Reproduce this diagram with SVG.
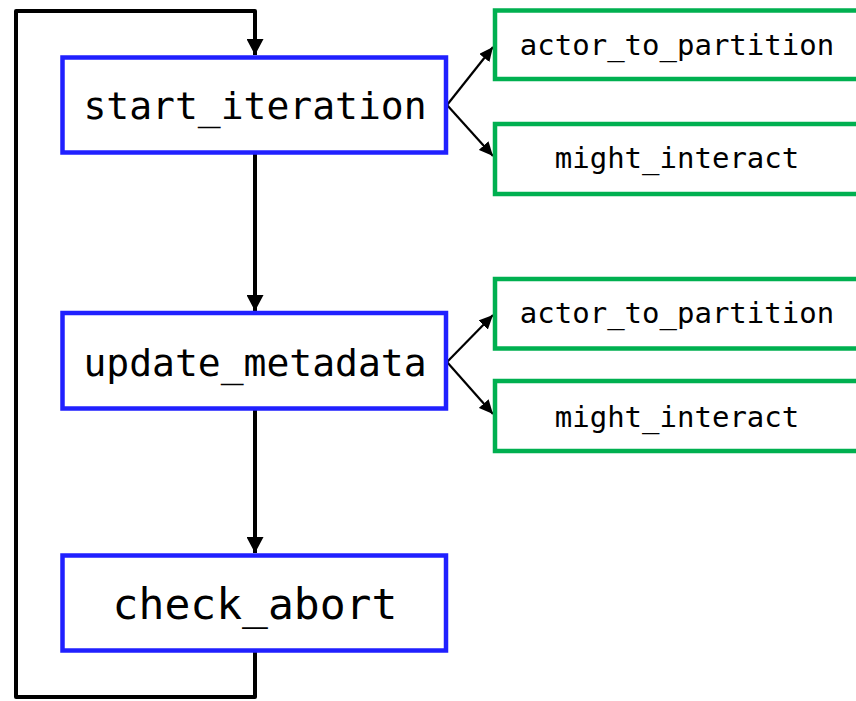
<svg xmlns="http://www.w3.org/2000/svg" width="856" height="701" viewBox="0 0 856 701">
  <style>
    .step rect { fill: #ffffff; stroke: #2020ff; stroke-width: 4.5; }
    .out rect { fill: #ffffff; stroke: #00b050; stroke-width: 4.5; }
    text { font-family: "DejaVu Sans Mono", "Liberation Mono", monospace; fill: #000000; text-anchor: middle; }
    .step text { font-size: 38px; }
    .out text { font-size: 29px; }
    .flow { fill: none; stroke: #000000; stroke-width: 4; stroke-linejoin: round; }
    .link { fill: none; stroke: #000000; stroke-width: 2.2; }
  </style>
  <defs>
    <marker id="bigHead" markerUnits="userSpaceOnUse" markerWidth="17" markerHeight="17" refX="16" refY="8.5" orient="auto">
      <path d="M0,0 L16,8.5 L0,17 Z" fill="#000000"/>
    </marker>
    <marker id="smallHead" markerUnits="userSpaceOnUse" markerWidth="15" markerHeight="13" refX="14" refY="6.5" orient="auto">
      <path d="M0,0 L14,6.5 L0,13 Z" fill="#000000"/>
    </marker>
  </defs>

  <g id="connectors">
    <path class="flow" d="M255,651 L255,697 L16,697 L16,11 L255,11 L255,55" marker-end="url(#bigHead)"/>
    <path class="flow" d="M255,153 L255,311" marker-end="url(#bigHead)"/>
    <path class="flow" d="M255,409 L255,553" marker-end="url(#bigHead)"/>
    <path class="link" d="M447,105 L493,47" marker-end="url(#smallHead)"/>
    <path class="link" d="M447,105 L493,156" marker-end="url(#smallHead)"/>
    <path class="link" d="M447,362 L493,315" marker-end="url(#smallHead)"/>
    <path class="link" d="M447,362 L493,414" marker-end="url(#smallHead)"/>
  </g>

  <g id="start_iteration" class="step">
    <rect x="62.5" y="57.5" width="383.5" height="95"/>
    <text x="255" y="119">start_iteration</text>
  </g>
  <g id="update_metadata" class="step">
    <rect x="62.5" y="313" width="383.5" height="95.5"/>
    <text x="255" y="376">update_metadata</text>
  </g>
  <g id="check_abort" class="step">
    <rect x="62.5" y="555.5" width="383.5" height="95"/>
    <text x="255" y="619" style="font-size:43px">check_abort</text>
  </g>

  <g id="actor_to_partition_1" class="out">
    <rect x="495" y="10.5" width="380" height="68.5"/>
    <text x="677" y="55">actor_to_partition</text>
  </g>
  <g id="might_interact_1" class="out">
    <rect x="495" y="124" width="380" height="70"/>
    <text x="677" y="168">might_interact</text>
  </g>
  <g id="actor_to_partition_2" class="out">
    <rect x="495" y="279" width="380" height="69.5"/>
    <text x="677" y="323">actor_to_partition</text>
  </g>
  <g id="might_interact_2" class="out">
    <rect x="495" y="381" width="380" height="70"/>
    <text x="677" y="427">might_interact</text>
  </g>
</svg>
